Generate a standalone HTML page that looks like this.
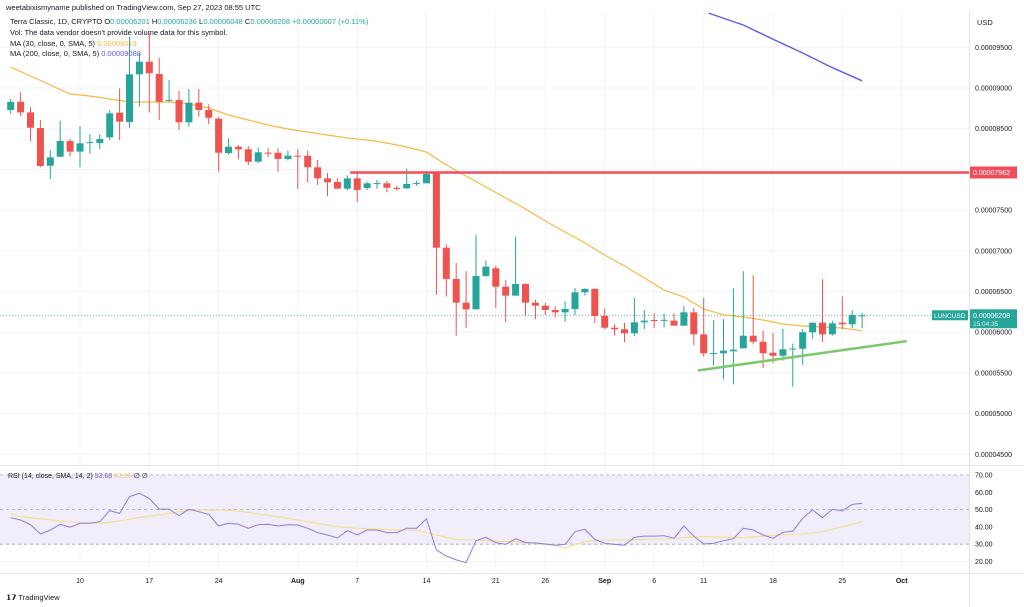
<!DOCTYPE html>
<html><head><meta charset="utf-8"><style>
html,body{margin:0;padding:0;background:#fff;width:1024px;height:607px;overflow:hidden}
svg{display:block;font-family:"Liberation Sans",sans-serif}
</style></head><body>
<svg id="c" width="1024" height="607" viewBox="0 0 1024 607" xmlns="http://www.w3.org/2000/svg">
<defs><clipPath id="mainClip"><rect x="0" y="12" width="969" height="452"/></clipPath>
<clipPath id="rsiClip"><rect x="0" y="466" width="969" height="107"/></clipPath></defs>
<g id="grid"></g>
<rect x="0" y="475" width="969" height="69" fill="#efeaf9" opacity="0.85"/>
<g id="main" clip-path="url(#mainClip)"></g>
<g id="rsi" clip-path="url(#rsiClip)"></g>
<g id="axes"></g>
<line x1="969.5" y1="12" x2="969.5" y2="607" stroke="#e0e3eb" stroke-width="1"/>
<line x1="0" y1="465.5" x2="1024" y2="465.5" stroke="#e0e3eb"/>
<line x1="0" y1="573.5" x2="1024" y2="573.5" stroke="#e0e3eb"/>
<text x="6" y="10" font-size="7.5" fill="#131722">weetabixismyname published on TradingView.com, Sep 27, 2023 08:55 UTC</text>
<text x="10" y="24" font-size="7.5" fill="#131722">Terra Classic, 1D, CRYPTO  O<tspan fill="#26a69a">0.00006201</tspan> H<tspan fill="#26a69a">0.00006236</tspan> L<tspan fill="#26a69a">0.00006048</tspan> C<tspan fill="#26a69a">0.00006208 +0.00000007 (+0.11%)</tspan></text>
<text x="10" y="35" font-size="7.5" fill="#131722">Vol: The data vendor doesn't provide volume data for this symbol.</text>
<text x="10" y="46" font-size="7.5" fill="#131722">MA (30, close, 0, SMA, 5) <tspan fill="#f5b942">0.00006019</tspan></text>
<text x="10" y="56" font-size="7.5" fill="#131722">MA (200, close, 0, SMA, 5) <tspan fill="#5b5bf0">0.00009088</tspan></text>
<text x="8" y="478" font-size="7" fill="#131722">RSI (14, close, SMA, 14, 2) <tspan fill="#7e57c2">53.68</tspan> <tspan fill="#f0d070">42.93</tspan> ∅ ∅</text>
<text x="977" y="25" font-size="7.5" fill="#131722">USD</text>
<text x="6" y="600" font-size="7.5" fill="#131722"><tspan font-weight="bold">𝟭𝟳</tspan> TradingView</text>
</svg>
<script>
// ---- data (prices in 1e-8 USD) ----
const startDay = -7; // day index relative to Jul 10
const opens  = [8730,8830,8700,8508,8045,8156,8349,8218,8330,8324,8394,8697,8582,9168,9323,9172,8853,8853,8579,8820,8730,8623,8201,8279,8247,8094,8205,8205,8128,8168,8168,8026,7890,7845,7763,7890,7772,7829,7829,7772,7768,7829,7829,7960,7038,6654,6363,6281,6690,6785,6559,6449,6592,6363,6325,6273,6244,6285,6490,6531,6199,6055,6036,5987,6122,6150,6150,6142,6080,6244,5974,5741,5741,5765,5802,5957,5883,5748,5711,5797,5797,5999,6117,5974,6117,6097,6201];
const closes = [8830,8700,8512,8042,8148,8349,8218,8320,8335,8373,8689,8586,9168,9323,9181,8832,8855,8579,8820,8730,8635,8205,8279,8247,8094,8210,8200,8128,8169,8165,8026,7890,7841,7763,7890,7747,7829,7832,7775,7770,7821,7832,7943,7038,6654,6363,6281,6690,6805,6559,6449,6592,6363,6325,6273,6244,6285,6490,6531,6199,6055,6036,5987,6122,6142,6148,6152,6080,6244,5974,5741,5745,5773,5785,5957,5883,5741,5711,5790,5800,5999,6117,5974,6109,6097,6212,6208];
const highs  = [8865,8947,8763,8607,8238,8594,8373,8533,8435,8435,8730,8996,9630,9426,9672,9372,9098,8967,8988,8988,8800,8640,8382,8300,8288,8270,8260,8260,8230,8250,8230,8115,7955,7893,7925,7980,7850,7870,7860,7800,8010,7860,7980,7975,7080,6850,6750,7194,6880,6815,6640,7173,6600,6400,6360,6320,6380,6545,6540,6540,6290,6100,6115,6420,6270,6230,6230,6230,6320,6300,6420,6150,6160,6540,6750,6700,6020,5990,6040,5860,6040,6120,6650,6140,6440,6270,6236];
const lows   = [8680,8656,8349,8026,7882,8150,8156,8026,8189,8250,8361,8361,8512,8770,8700,8607,8830,8484,8525,8648,8558,7972,8180,8124,8054,8080,8150,7972,8110,7760,7840,7810,7670,7780,7740,7600,7745,7760,7720,7740,7760,7800,7850,6457,6437,5957,6050,6281,6680,6300,6120,6449,6200,6160,6210,6180,6130,6210,6450,6110,6040,5960,5880,5950,6040,6050,6060,6080,6080,5840,5700,5590,5420,5360,5802,5850,5560,5620,5650,5330,5600,5920,5880,5960,6040,6050,6048];
const ma30Days = [-7,-5,-3,-1,1,3,5,7,9,11,13,15,17,19,21,23,25,27,29,31,33,35,37,39,41,43,45,47,49,51,53,55,57,59,61,63,65,67,69,71,73,75,77,79];
const ma30Vals = [9258,9147,9037,8926,8902,8865,8828,8828,8828,8803,8754,8668,8607,8545,8496,8459,8423,8386,8361,8324,8275,8214,8054,7919,7784,7649,7514,7366,7231,7096,6949,6813,6666,6519,6433,6285,6212,6187,6150,6101,6076,6064,6052,6019];
const ma200Days = [63.5,67,70,73,76,79];
const ma200Vals = [9920,9774,9600,9430,9250,9088];
const resistance = 7962;
const resistanceStartDay = 28;
const trendDays = [62.4,83.5];
const trendVals = [5530,5890];
const lastPrice = 6208;
const rsiVals = [45.3,44,41.3,35.9,38.2,41.5,39.8,42.1,42.1,43,49.4,47.8,57.5,59.4,56.5,50.3,50.3,46.5,50.2,48.8,47.3,40.5,42.1,41.5,39.2,41.3,41.5,40.5,41.3,41.1,39.2,36.7,35.3,33.6,37.8,35.3,38.2,38.2,36.7,36.7,39.2,39.2,44.6,26.6,23.2,20.9,19.3,32,34,30.9,29.9,33.2,30.9,30.7,30.1,29.4,29.9,37.2,38.6,32.8,30.5,29.9,29.4,34,34.7,34.7,34.9,33.4,40.5,34.7,30.1,30.5,32,33.2,39.2,38.2,35.3,33.4,36.9,37.6,45,49.8,45.3,50.2,49.2,53,53.6];
const rsiSmaDays = [-7,-6,-4,-2,0,2,4,6,8,10,12,14,16,18,20,22,24,26,28,30,32,34,36,38,40,42,44,46,48,49,51,53,55,57,59,61,63,65,67,69,71,73,75,77,79];
const rsiSmaVals = [47.8,45.9,44.6,43.4,42.4,42.1,43.4,45.5,46.9,48.8,49.8,49.8,49.2,47.5,45.9,44,42.1,40.1,39.2,38.6,38.2,38.2,35.3,32.8,32.4,31.5,31.5,30.5,29.5,27.6,31.5,32.4,32.4,32.8,33,33.8,34.4,34,33.8,34.7,35.5,35.9,37.2,40.1,43];
const priceTicks = [9500,9000,8500,7500,7000,6500,6000,5500,5000,4500];
const priceGridTicks = [9500,9000,8500,8000,7500,7000,6500,6000,5500,5000,4500];
const rsiTicks = [70,60,50,40,30,20];
const dateDays = [0,7,14,22,28,35,42,47,53,58,63,70,77,83];
const dateLabels = ["10","17","24","Aug","7","14","21","26","Sep","6","11","18","25","Oct"];
const dateBold = ["Aug","Sep","Oct"];

// ---- scales ----
const X = d => 80 + d*9.9;
const Y = p => 47.3 + (9500 - p)*0.0814;
const R = v => 475 + (70 - v)*1.73;
const NS = "http://www.w3.org/2000/svg";
function mk(tag, attrs, parent){ const e=document.createElementNS(NS,tag); for(const k in attrs) e.setAttribute(k,attrs[k]); parent.appendChild(e); return e; }
const grid=document.getElementById('grid'), main=document.getElementById('main'), rsi=document.getElementById('rsi'), axes=document.getElementById('axes');
const fmt = p => "0.0000" + String(Math.round(p)).padStart(4,"0");

// grid
priceGridTicks.forEach(p=>{ const l=mk('line',{x1:0,x2:969,y1:Y(p),y2:Y(p),stroke:'#f0f3fa'},grid);

 });
rsiTicks.forEach(v=>{ const l=mk('line',{x1:0,x2:969,y1:R(v),y2:R(v),stroke:'#f0f3fa'},grid);

 });
dateDays.forEach(d=>{ const l=mk('line',{x1:X(d),x2:X(d),y1:12,y2:573,stroke:'#f0f3fa'},grid);

 });

// last price dotted line
const lp=mk('line',{x1:0,x2:969,y1:Y(lastPrice),y2:Y(lastPrice),stroke:'#26a69a','stroke-dasharray':'1 2','stroke-width':0.8},main);



// MA lines
function pathFrom(days, vals){ return days.map((d,i)=>(i?'L':'M')+X(d).toFixed(1)+' '+Y(vals[i]).toFixed(1)).join(' '); }
const ma30=mk('path',{d:pathFrom(ma30Days,ma30Vals),fill:'none',stroke:'#f5b942','stroke-width':1.2},main);


const ma200=mk('path',{d:pathFrom(ma200Days,ma200Vals),fill:'none',stroke:'#5b5bf0','stroke-width':1.4},main);



// candles
opens.forEach((o,i)=>{
  const d=startDay+i, c=closes[i], up=c>=o, col=up?'#26a69a':'#ef5350';
  const g=mk('g',{},main);
  
  
  mk('line',{x1:X(d),x2:X(d),y1:Y(highs[i]),y2:Y(lows[i]),stroke:col,'stroke-width':1},g);
  const top=Y(Math.max(o,c)), h=Math.max(1,Y(Math.min(o,c))-top);
  mk('rect',{x:X(d)-3.5,y:top,width:7,height:h,fill:col},g);
});

// resistance line
const rl=mk('line',{x1:X(resistanceStartDay)-7,x2:969,y1:Y(resistance),y2:Y(resistance),stroke:'#ef4d5a','stroke-width':2.5},main);


// trend line
const tl=mk('line',{x1:X(trendDays[0]),x2:X(trendDays[1]),y1:Y(trendVals[0]),y2:Y(trendVals[1]),stroke:'#7cc96a','stroke-width':2.5},main);



// RSI
[70,50,30].forEach(v=>{ const l=mk('line',{x1:0,x2:969,y1:R(v),y2:R(v),stroke:'#a8a6b8','stroke-dasharray':'3 3','stroke-width':0.8},rsi);

 });
const rsiSma=mk('path',{d:rsiSmaDays.map((d,i)=>(i?'L':'M')+X(d).toFixed(1)+' '+R(rsiSmaVals[i]).toFixed(1)).join(' '),fill:'none',stroke:'#f3e08a','stroke-width':1.1},rsi);


const rsiLine=mk('path',{d:rsiVals.map((v,i)=>(i?'L':'M')+X(startDay+i).toFixed(1)+' '+R(v).toFixed(1)).join(' '),fill:'none',stroke:'#8e7cd6','stroke-width':1},rsi);



// axes labels
priceTicks.forEach(p=>{ const t=mk('text',{x:975,y:Y(p)+2.5,'font-size':7,fill:'#131722'},axes); t.textContent=fmt(p);

 });
rsiTicks.forEach(v=>{ const t=mk('text',{x:975,y:R(v)+2.5,'font-size':7,fill:'#131722'},axes); t.textContent=v.toFixed(2);

 });
dateDays.forEach((d,i)=>{ const t=mk('text',{x:X(d),y:583,'font-size':7,fill:'#131722','text-anchor':'middle','font-weight':dateBold.includes(dateLabels[i])?'bold':'normal'},axes); t.textContent=dateLabels[i];

 });

// price tags
const rt=mk('rect',{x:970,y:Y(resistance)-6,width:47,height:12,fill:'#ef4d5a'},axes);


const rtt=mk('text',{x:973,y:Y(resistance)+2.5,'font-size':7,fill:'#fff'},axes); rtt.textContent=fmt(resistance);


const sym=mk('rect',{x:932,y:Y(lastPrice)-5,width:36,height:10,fill:'#26a69a'},axes);


const symt=mk('text',{x:934,y:Y(lastPrice)+2.5,'font-size':6.5,fill:'#fff'},axes); symt.textContent='LUNCUSD';


const pt=mk('rect',{x:970,y:Y(lastPrice)-6,width:47,height:19,fill:'#26a69a'},axes);


const ptt=mk('text',{x:973,y:Y(lastPrice)+2.5,'font-size':7,fill:'#fff'},axes); ptt.textContent=fmt(lastPrice);


const cd=mk('text',{x:973,y:Y(lastPrice)+10.5,'font-size':6.5,fill:'#d8f3ef'},axes); cd.textContent='15:04:35';


</script>
</body></html>
